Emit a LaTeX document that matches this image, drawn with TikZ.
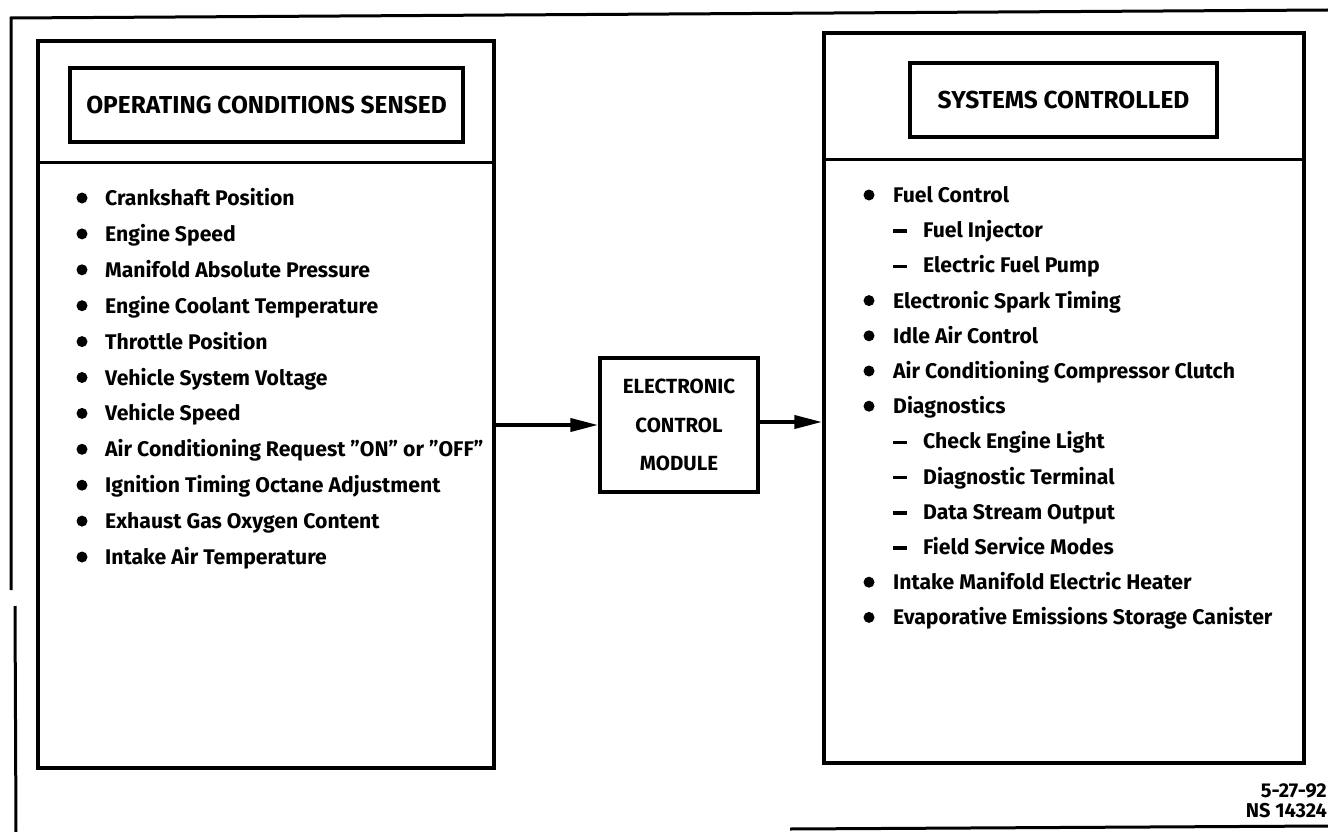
\documentclass[tikz,border=0pt]{standalone}
\usepackage{fontspec}
\setmainfont{Fira Sans}
\usetikzlibrary{arrows.meta}
\begin{document}
\begin{tikzpicture}[x=1pt,y=-1pt,
  frame/.style={line width=3pt},
  bigbox/.style={draw, line width=3.5pt, rectangle, inner sep=0pt},
  hdr/.style={draw, line width=3.5pt, rectangle, inner sep=0pt, font=\fontsize{24.5}{28}\selectfont\bfseries},
  divider/.style={line width=3pt},
  item/.style={anchor=base west, inner sep=0pt, font=\fontsize{21.2}{24}\selectfont\bfseries},
  dot/.style={fill=black},
  dashmark/.style={line width=3.5pt},
  ecmbox/.style={draw, line width=3.5pt, rectangle, inner sep=0pt, align=center, font=\fontsize{20.5}{38.5}\selectfont\bfseries},
  flow/.style={line width=4pt, -{Triangle[length=28pt,width=13pt]}},
  note/.style={anchor=east, inner sep=0pt, align=right, font=\fontsize{20}{20}\selectfont\bfseries}
]
\useasboundingbox (0,0) rectangle (1328,832);
% outer frame
\draw[frame] (1328,10) -- (11,18) -- (11,590);
\draw[frame] (15,606) -- (16,832);
\draw[frame] (790,829) -- (1328,826);

% boxes
\node[bigbox, minimum width=456pt, minimum height=727pt] (lbox) at (266,404.5) {};
\node[bigbox, minimum width=480pt, minimum height=730pt] (rbox) at (1064,398) {};
\node[hdr, minimum width=393pt, minimum height=74pt] (lhead) at (266.5,105) {OPERATING CONDITIONS SENSED};
\node[hdr, minimum width=307pt, minimum height=74pt] (rhead) at (1063.5,100) {SYSTEMS CONTROLLED};
\draw[divider] (lbox.west |- 0,163) -- (lbox.east |- 0,163);
\draw[divider] (rbox.west |- 0,160) -- (rbox.east |- 0,160);

\node[ecmbox, minimum width=158pt, minimum height=134pt] (ecm) at (679,425) {ELECTRONIC\\CONTROL\\MODULE};

\draw[flow] (lbox.east |- ecm.west) -- (ecm.west);
\draw[flow] (ecm.east |- 0,422) -- (rbox.west |- 0,422);

% left list
\foreach \t [count=\i from 0] in {Crankshaft Position, Engine Speed, Manifold Absolute Pressure, Engine Coolant Temperature, Throttle Position, Vehicle System Voltage, Vehicle Speed, {Air Conditioning Request "ON" or "OFF"}, Ignition Timing Octane Adjustment, Exhaust Gas Oxygen Content, Intake Air Temperature}{
  \fill[dot] (82,198+35.9*\i) circle (5.5pt);
  \node[item] (l\i) at (105,205.5+35.9*\i) {\t};
}

% right list
\foreach \t/\k [count=\i from 0] in {Fuel Control/b, Fuel Injector/d, Electric Fuel Pump/d, Electronic Spark Timing/b, Idle Air Control/b, Air Conditioning Compressor Clutch/b, Diagnostics/b, Check Engine Light/d, Diagnostic Terminal/d, Data Stream Output/d, Field Service Modes/d, Intake Manifold Electric Heater/b, Evaporative Emissions Storage Canister/b}{
  \if b\k
    \fill[dot] (869,195+35.2*\i) circle (5.5pt);
    \node[item] (r\i) at (893,202.5+35.2*\i) {\t};
  \else
    \draw[dashmark] (893,196+35.2*\i) -- (907,196+35.2*\i);
    \node[item] (r\i) at (923,202.5+35.2*\i) {\t};
  \fi
}

\node[note] (date) at (1327,801) {5-27-92\\NS 14324};
\end{tikzpicture}
\end{document}
